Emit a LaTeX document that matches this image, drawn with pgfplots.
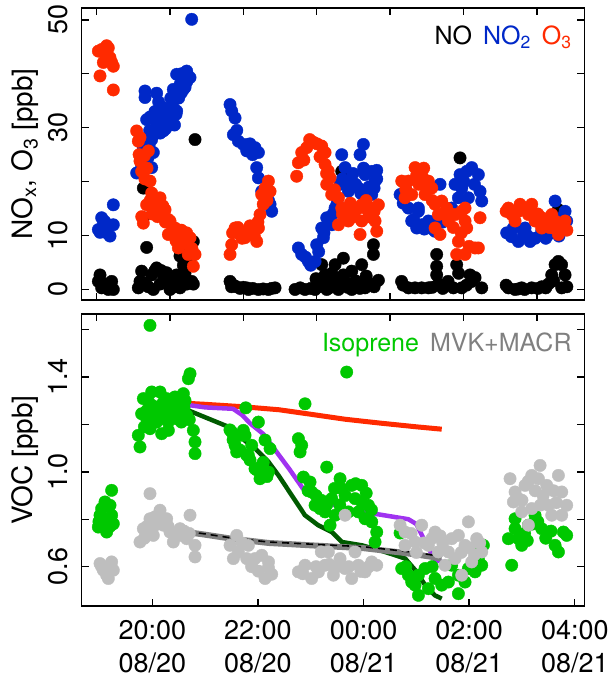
\documentclass[border=0pt]{standalone}
\usepackage{fontspec}
\setmainfont{TeX Gyre Heros}
\usepackage{pgfplots}
\pgfplotsset{compat=1.18}

\definecolor{ozone}{HTML}{FF2A00}
\definecolor{notwo}{HTML}{0028C8}
\definecolor{isop}{HTML}{00C800}
\definecolor{mvk}{HTML}{BEBEBE}
\definecolor{mvktxt}{HTML}{808080}
\definecolor{purp}{HTML}{A033F0}
\definecolor{dgreen}{HTML}{005A00}

\pgfplotsset{
  panel/.style={
    scale only axis, width=502.6pt, height=292pt,
    xmin=18.663, xmax=28.18,
    axis line style={line width=1.4pt},
    every tick/.style={black, line width=1.4pt},
    major tick length=7pt, tick align=inside,
    tick label style={font=\fontsize{27}{33}\selectfont},
    label style={font=\fontsize{28}{33}\selectfont},
    yticklabel style={xshift=-14pt, rotate=90, anchor=south, inner sep=0pt},
    ylabel style={at={(axis description cs:-0.113,0.5)}, anchor=center},
  },
  pts/.style={only marks, mark=*, mark size=6.2pt, color=#1},
}

\begin{document}
\begin{tikzpicture}
\path[use as bounding box] (0,0) rectangle (613pt,681pt);

% ---------- top panel: NOx, O3 ----------
\begin{axis}[panel, at={(81.7pt,381pt)}, anchor=south west,
  ymin=-1.95, ymax=52.2,
  ytick={0,10,20,30,40,50}, yticklabels={0,10,{},30,{},50},
  xtick={18.947,20.336,21.725,23.114,24.503,25.892,27.281}, xticklabels={},
  ylabel={NO\textsubscript{x}, O\textsubscript{3} [ppb]}]
% NO
\addplot[pts=black] coordinates {
(19.010,2.7)(19.041,0.3)(19.136,1.0)(19.230,1.5)(19.262,0)(19.167,0)(18.978,1.5)(19.073,0.8)(19.199,0.3)
(19.830,18.8)(19.830,13.3)(19.893,7.8)(20.809,27.8)(20.777,8.9)(20.525,6.2)(19.798,3.4)(20.082,4.0)(20.272,3.1)
(20.461,2.7)(20.651,1.5)(19.735,0.3)(19.925,0.5)(20.146,1.0)(20.335,0)(20.525,0.3)(20.651,1.0)(20.746,1.5)
(20.209,2.7)(19.988,2.7)(20.588,4.5)(20.714,5.5)(20.430,0.5)(20.019,0)(19.767,1.5)(20.398,2)(20.619,3)
(20.777,1.0)(19.860,1.2)(20.050,3.5)(20.300,1.5)(20.170,3.5)(20.5,1.2)(20.70,7.0)
(21.472,1.5)(21.598,0.5)(21.788,0.3)(21.819,0)(22.009,0)(22.198,0)(22.324,0.3)(21.535,0.8)(21.661,0.2)
(21.9,0.2)(22.1,0.1)(22.26,0.2)(21.72,0.4)(21.5,0.5)
(22.703,0)(22.892,0)(23.082,0)(23.303,0)(23.524,0)(23.776,0)(24.029,0.3)(24.281,1.7)(23.208,4.6)(23.271,2.7)
(23.461,4.6)(23.618,5.8)(23.618,2.7)(23.776,3.4)(23.965,4.6)(24.187,6.5)(24.187,8.3)(23.587,21.9)(23.397,1.0)
(23.650,1.5)(23.902,1.0)(22.8,0.3)(23.0,0.2)(23.15,0.5)(23.35,0.3)(23.7,0.4)(23.85,1.6)(24.1,1.2)(24.2,0.5)
(23.5,1.8)(23.25,1.2)(24.05,2.5)(23.93,0.2)(23.1,2.0)(23.4,3.0)
(25.827,24.4)(25.385,6.5)(25.385,4.3)(25.385,2.7)(25.417,1.0)(25.764,4.6)(26.017,2.7)(26.111,2.2)(25.228,0.3)
(25.575,1.0)(25.859,0.3)(26.238,0.3)(25.101,0.3)(24.975,0.3)(24.75,0.8)(24.72,1.5)(24.85,0.3)(25.7,0.3)
(25.95,0.8)(26.05,1.5)(25.80,3.0)(25.5,0.2)(25.3,0.4)(25.6,1.5)
(26.743,0.3)(26.869,0)(26.995,0.3)(27.185,0.3)(27.374,0.5)(27.500,1.0)(27.563,2.7)(27.627,4.6)(27.690,5.2)
(27.816,2.7)(27.753,0.3)(27.690,14.8)(26.7,0.8)(27.05,0)(27.3,0.2)(27.45,0.3)(27.6,1.6)(27.75,4.6)(27.85,0.5)(26.93,0.1)
};
% NO2
\addplot[pts=notwo] coordinates {
(18.978,11.1)(19.041,13.3)(19.073,12.0)(19.167,11.9)(19.199,9.9)(19.262,12.0)(19.262,15.7)(19.01,10.6)(19.1,12.6)(19.136,10.5)
(19.704,21.6)(19.798,22.9)(19.988,22.6)(20.019,25.4)(19.830,26.3)(19.893,31.5)(19.862,35.6)(19.862,36.8)(20.082,36.4)
(20.019,31.8)(20.146,33.1)(20.209,33.7)(20.272,31.8)(20.335,30.6)(20.209,29.4)(20.398,34.9)(20.461,33.1)(20.398,37.1)
(20.525,38.0)(20.461,39.9)(20.651,40.5)(20.714,39.3)(20.588,37.1)(20.746,50.1)(19.988,27.8)
(20.1,30.5)(20.3,33.5)(20.15,29.0)(19.95,29.5)(20.05,33.0)(20.25,31.0)(20.35,35.5)(20.5,35.5)(20.55,40.0)(20.65,38.5)
(20.0,28.5)(20.25,29.8)(20.45,32.5)(19.92,24.5)(19.85,23.8)(20.17,31.5)(20.42,30.5)(20.12,34.8)(20.30,32.0)
(19.96,32.0)(20.07,31.2)(20.20,32.5)(20.38,32.2)(20.55,36.5)(20.62,37.5)(19.94,26.8)
(21.472,34.3)(21.504,33.1)(21.567,31.8)(21.535,28.7)(21.630,27.5)(21.724,26.9)(21.788,25.7)(21.819,26.9)(21.945,26.3)
(22.009,25.4)(21.977,22.6)(22.009,20.7)(22.072,18.2)(22.135,17.6)(22.230,15.8)(22.261,14.5)(22.2,16.5)(21.9,25.0)(21.6,29.5)(21.85,27.0)
(22.766,7.7)(22.829,6.5)(22.955,5.2)(23.082,5.2)(23.113,8.3)(23.240,9.6)(23.208,11.4)(23.303,13.3)(23.397,12.0)
(23.461,15.1)(23.555,19.5)(23.587,25.0)(23.650,22.6)(23.713,18.2)(23.776,20.1)(23.902,18.8)(23.934,25.0)(23.997,26.9)
(24.029,21.3)(24.155,21.9)(24.250,22.1)(24.218,20.1)(24.155,17.6)(24.060,17.0)(22.9,6.0)(23.0,4.5)(23.15,7.0)
(23.35,12.5)(23.5,16.0)(23.6,20.5)(23.8,21.5)(23.85,19.5)(24.1,19.0)(24.2,18.8)(23.7,20.0)(23.95,17.8)(24.0,22.5)
(24.25,20.5)(23.42,14.0)(23.25,10.5)
(24.692,17.6)(24.849,15.1)(24.912,12.7)(25.007,11.4)(25.038,14.5)(25.101,12.0)(25.228,12.7)(25.259,11.4)(25.448,19.5)
(25.733,19.5)(25.827,21.3)(25.954,21.9)(26.048,22.6)(26.174,21.3)(26.206,18.2)(26.238,16.4)(25.985,17.0)(25.796,17.0)
(25.859,18.8)(25.669,15.1)(25.038,15.1)(24.75,16.0)(24.95,13.0)(25.15,11.2)(25.35,10.8)(25.5,12.5)(25.6,14.0)
(25.9,20.0)(26.1,19.5)(24.8,18.5)(25.3,12.5)
(26.711,10.5)(26.837,11.4)(26.932,8.9)(27.027,10.2)(27.153,8.9)(27.058,11.4)(27.374,10.8)(27.500,10.2)(27.627,16.4)
(27.816,14.5)(27.847,12.7)(27.753,13.3)(26.8,9.8)(27.1,10.0)(27.25,9.5)(27.45,9.5)(27.6,11.0)(27.7,9.9)
};
% O3
\addplot[pts=ozone] coordinates {
(18.978,44.2)(19.041,44.5)(19.136,45.2)(19.167,44.8)(19.104,43.7)(19.199,43.0)(19.073,42.1)(19.230,42.1)(19.262,41.4)(19.010,39.6)(19.262,37.0)
(19.704,29.4)(19.735,27.5)(19.767,28.2)(19.925,25.7)(19.767,23.8)(19.798,21.9)(19.956,20.1)(19.988,17.9)(20.146,17.0)
(19.893,15.7)(19.830,12.3)(20.241,14.8)(20.335,12.7)(20.430,11.4)(20.304,10.2)(20.525,9.6)(20.714,9.6)(20.493,7.7)
(20.809,6.5)(20.777,4.3)(19.75,25.0)(19.85,24.8)(19.9,22.5)(20.05,16.0)(20.2,15.5)(20.1,13.5)(20.0,14.0)(20.38,11.0)
(20.6,8.5)(20.65,10.5)(20.75,7.6)(20.55,11.0)(20.45,9.0)(19.96,16.5)(20.25,12.5)(20.68,6.5)
(20.08,15.0)(20.15,13.8)(20.30,13.0)(20.48,10.8)(20.62,9.8)(19.80,13.5)(19.86,20.5)
(21.472,6.5)(21.504,8.3)(21.567,11.4)(21.661,10.2)(21.756,9.6)(21.788,10.8)(21.882,10.2)(21.977,8.9)(22.009,11.4)
(22.040,13.9)(22.072,17.6)(22.135,18.8)(22.198,20.1)(22.230,18.2)(21.52,10.5)(21.62,11.5)(21.7,9.5)(21.85,11.8)
(21.93,10.0)(22.1,15.8)(22.17,16.5)(22.0,12.5)
(22.734,21.0)(22.766,23.5)(22.829,25.4)(22.924,26.3)(23.050,27.3)(23.208,26.6)(23.271,25.4)(23.176,24.6)(23.271,23.2)
(23.366,20.7)(23.303,19.5)(23.397,17.6)(23.524,17.0)(23.587,15.1)(23.524,12.0)(23.650,13.9)(23.713,14.5)(23.776,14.5)
(23.902,15.1)(23.965,15.7)(24.029,15.1)(24.155,15.1)(24.281,15.7)(24.218,12.7)(23.934,10.2)(23.965,12.7)(24.250,10.8)
(23.713,12.7)(22.98,27.8)(23.12,27.0)(22.87,24.0)(23.33,22.0)(23.45,18.5)(23.6,14.0)(23.83,13.5)(24.1,13.5)
(24.2,14.5)(23.75,16.0)(24.05,16.5)(23.3,21.5)
(24.723,20.1)(24.849,20.1)(24.786,17.0)(24.912,17.6)(24.976,22.6)(25.101,21.3)(25.228,20.1)(25.291,18.8)(25.164,17.6)
(25.354,15.8)(25.480,16.4)(25.575,15.1)(25.417,13.9)(25.606,12.7)(25.354,11.4)(25.448,10.2)(25.733,13.9)(25.859,14.5)
(25.922,12.7)(25.954,11.4)(25.796,8.9)(25.764,6.5)(25.922,6.5)(26.111,7.7)(26.174,7.7)(26.206,13.3)(25.922,15.1)
(24.8,18.5)(25.05,19.5)(25.2,18.5)(25.3,16.5)(25.5,14.0)(25.65,14.0)(25.7,11.5)(25.85,10.5)(26.0,8.0)(25.0,21.0)(25.14,22.5)
(26.743,15.1)(26.806,13.9)(26.869,12.7)(26.964,15.8)(27.058,15.1)(27.185,15.8)(27.122,13.9)(27.248,12.7)(27.374,13.3)
(27.469,12.0)(27.563,13.9)(27.627,12.7)(27.753,12.0)(27.816,12.7)(27.784,11.4)(27.690,10.2)(27.595,11.4)(27.374,11.4)
(26.7,14.5)(26.93,14.5)(27.3,14.0)(27.52,11.5)(27.85,11.0)
};
\node[anchor=base east, inner sep=0pt, font=\fontsize{25}{29}\selectfont]
  at (rel axis cs:0.975,0.875)
  {NO\hspace{11pt}\textcolor{notwo}{NO\textsubscript{2}}\hspace{11pt}\textcolor{ozone}{O\textsubscript{3}}};
\end{axis}

% ---------- bottom panel: VOC ----------
\begin{axis}[panel, at={(81.7pt,75pt)}, anchor=south west,
  ymin=0.434, ymax=1.666,
  ytick={0.6,0.8,1.0,1.2,1.4,1.6}, yticklabels={0.6,{},1.0,{},1.4,{}},
  xtick={20,22,24,26,28}, xtick pos=left,
  xticklabels={{20:00\\08/20},{22:00\\08/20},{00:00\\08/21},{02:00\\08/21},{04:00\\08/21}},
  xticklabel style={align=center, anchor=north, inner sep=0pt, yshift=-14pt,
    font=\fontsize{27}{33.5}\selectfont},
  ylabel={VOC [ppb]}]
% isoprene
\addplot[pts=isop] coordinates {
(19.230,0.922)(19.104,0.873)(19.041,0.845)(19.199,0.859)(19.010,0.817)(19.230,0.817)(19.262,0.781)(18.978,0.767)
(19.136,0.746)(19.073,0.789)(18.99,0.79)(19.16,0.80)(19.2,0.77)
(19.956,1.618)(20.714,1.414)(20.683,1.393)(19.830,1.309)(19.988,1.337)(20.146,1.337)(20.272,1.309)(20.430,1.316)
(20.588,1.33)(19.798,1.245)(19.893,1.224)(20.082,1.252)(20.241,1.266)(20.398,1.252)(20.525,1.239)(20.651,1.239)
(19.735,1.154)(19.956,1.182)(20.177,1.161)(20.304,1.175)(20.777,1.175)(20.809,1.126)(19.767,1.105)(20.809,1.077)
(20.082,1.21)(20.461,1.224)(20.0,1.28)(20.2,1.29)(20.35,1.27)(20.5,1.30)(19.9,1.26)(20.6,1.27)(20.7,1.22)
(19.85,1.19)(20.1,1.24)(20.3,1.21)(20.55,1.21)(20.15,1.27)(20.42,1.28)(19.92,1.30)(20.25,1.23)(20.62,1.30)
(21.504,1.168)(21.567,1.112)(21.598,1.084)(21.661,1.154)(21.788,1.07)(21.724,1.175)(21.819,1.07)(21.882,1.112)
(22.009,1.21)(21.945,1.013)(22.072,1.027)(22.198,0.999)(22.135,1.134)(22.230,1.098)(21.756,1.154)(22.04,0.971)
(21.77,1.27)(21.47,1.177)(21.53,1.135)(21.66,1.092)(21.85,1.05)(21.98,1.008)(22.1,1.04)(22.17,0.98)
(22.892,1.287)(23.681,1.421)(22.766,1.14)(22.829,1.112)(22.798,1.084)(23.303,1.02)(22.861,0.978)(22.987,0.957)
(23.018,0.915)(23.082,0.859)(23.176,0.845)(23.271,0.831)(23.366,0.775)(23.397,0.887)(23.555,0.971)(23.587,0.929)
(23.776,0.943)(23.839,0.887)(23.965,0.943)(23.965,0.873)(23.902,0.831)(24.029,0.802)(24.092,0.859)(24.155,0.789)
(24.250,0.746)(24.218,0.704)(23.461,0.817)(23.713,0.831)(23.1,0.90)(23.2,0.88)(23.45,0.93)(23.65,0.90)(23.85,0.95)
(24.05,0.91)(24.15,0.84)(23.55,0.86)(23.3,0.86)(22.95,0.92)
(24.723,0.592)(24.849,0.564)(24.912,0.535)(25.039,0.479)(24.976,0.522)(25.038,0.564)(25.164,0.592)(25.228,0.507)
(25.354,0.55)(25.480,0.522)(25.606,0.535)(25.796,0.486)(25.796,0.564)(25.985,0.592)(26.111,0.578)(26.238,0.606)
(26.269,0.69)(26.174,0.634)(25.922,0.535)(25.669,0.606)(24.692,0.742)(24.8,0.60)(25.3,0.60)(26.2,0.66)
(26.806,0.606)(26.743,0.718)(26.869,0.76)(26.995,0.69)(27.122,0.775)(27.248,0.817)(27.374,0.76)(27.500,0.746)
(27.627,0.69)(27.690,0.662)(27.784,0.746)(27.847,0.732)(26.869,0.802)(26.932,0.718)(27.05,0.74)(27.2,0.78)
(27.45,0.72)(27.3,0.79)(27.55,0.75)(27.1,0.71)
};
% MVK+MACR
\addplot[pts=mvk] coordinates {
(19.010,0.613)(19.230,0.62)(19.136,0.564)(19.262,0.585)(19.073,0.585)(19.167,0.55)(19.04,0.60)(19.2,0.60)
(19.956,0.908)(20.146,0.838)(19.830,0.76)(19.767,0.704)(19.956,0.802)(20.019,0.732)(20.209,0.775)(20.335,0.746)
(20.525,0.76)(20.714,0.817)(20.651,0.718)(20.809,0.69)(20.809,0.641)(20.398,0.704)(20.525,0.732)(20.272,0.802)
(19.9,0.77)(20.1,0.78)(20.0,0.76)(20.4,0.74)(20.6,0.75)(20.7,0.74)(19.85,0.72)(20.05,0.81)(20.3,0.77)
(21.472,0.69)(21.598,0.732)(21.630,0.662)(21.788,0.634)(21.535,0.634)(21.819,0.69)(21.945,0.634)(22.072,0.648)
(22.198,0.596)(22.261,0.568)(22.009,0.581)(22.135,0.55)(21.88,0.60)(21.7,0.70)(22.2,0.62)
(22.766,0.578)(22.892,0.606)(23.018,0.55)(23.145,0.578)(23.271,0.606)(23.334,0.662)(23.429,0.564)(23.555,0.634)
(23.650,0.592)(23.776,0.55)(23.902,0.606)(24.029,0.578)(24.155,0.62)(24.250,0.606)(23.650,0.817)(23.200,0.662)
(23.839,0.662)(22.85,0.57)(23.35,0.61)(23.5,0.60)(23.95,0.58)(24.1,0.60)(23.1,0.60)(23.72,0.60)
(24.692,0.775)(24.786,0.746)(24.786,0.69)(24.976,0.704)(25.101,0.775)(25.354,0.746)(25.228,0.69)(25.417,0.662)
(25.669,0.718)(25.796,0.732)(25.985,0.789)(26.143,0.718)(26.238,0.662)(25.922,0.69)(25.733,0.634)(25.543,0.606)
(26.048,0.62)(25.859,0.564)(25.606,0.662)(25.0,0.66)(25.3,0.72)(25.5,0.70)(26.0,0.68)(26.2,0.70)(24.9,0.74)
(25.45,0.73)(25.15,0.70)(25.85,0.66)(26.1,0.65)
(26.774,0.971)(26.869,0.915)(26.837,0.873)(26.995,0.831)(27.058,0.943)(27.185,0.985)(27.343,1.027)(27.311,0.971)
(27.469,0.943)(27.500,0.859)(27.563,0.817)(27.690,0.985)(27.753,0.915)(27.847,0.859)(27.753,0.817)(27.185,0.845)
(27.122,0.775)(26.932,0.887)(27.25,0.92)(27.4,0.90)(27.6,0.92)(27.0,0.88)(27.12,0.96)(27.35,0.86)(27.65,0.87)
};
% model lines
\addplot[ozone, line width=5pt] coordinates {
(20.43,1.292)(21.0,1.285)(21.7,1.275)(22.4,1.262)(23.0,1.243)(23.65,1.222)(24.3,1.206)(25.0,1.19)(25.48,1.18)};
\addplot[purp, line width=4.5pt] coordinates {
(20.43,1.29)(21.0,1.272)(21.53,1.266)(21.7,1.24)(21.85,1.205)(22.1,1.16)(22.3,1.10)(22.6,1.01)(22.85,0.93)
(23.1,0.89)(23.45,0.86)(23.65,0.84)(24.3,0.82)(24.85,0.80)(25.0,0.78)(25.1,0.735)(25.25,0.67)(25.35,0.63)(25.48,0.62)};
\addplot[dgreen, line width=4.5pt] coordinates {
(20.43,1.29)(20.52,1.274)(21.53,1.182)(21.76,1.13)(21.95,1.098)(22.2,1.042)(22.39,0.985)(22.64,0.901)(22.89,0.817)
(23.14,0.775)(23.4,0.746)(23.59,0.704)(23.97,0.69)(24.41,0.662)(24.79,0.634)(24.98,0.585)(25.17,0.521)(25.35,0.479)(25.48,0.465)};
\addplot[gray, line width=6pt] coordinates {
(20.43,0.753)(21.0,0.735)(21.5,0.718)(22.2,0.70)(23.0,0.69)(24.0,0.678)(24.7,0.66)(25.1,0.648)(25.48,0.635)};
\addplot[black, line width=1.6pt, dash pattern=on 7pt off 5pt] coordinates {
(20.43,0.756)(21.0,0.738)(21.5,0.721)(22.2,0.704)(23.0,0.695)(24.0,0.684)(24.7,0.667)(25.1,0.656)(25.48,0.643)};
\node[anchor=base east, inner sep=0pt, font=\fontsize{25}{29}\selectfont]
  at (rel axis cs:0.975,0.87)
  {\textcolor{isop}{Isoprene}\hspace{11pt}\textcolor{mvktxt}{MVK+MACR}};
\end{axis}
% top-side ticks of the lower panel
\begin{axis}[panel, at={(81.7pt,75pt)}, anchor=south west,
  ymin=0.434, ymax=1.666, ytick=\empty,
  xtick={18.947,20.336,21.725,23.114,24.503,25.892,27.281}, xtick pos=right, xticklabels={}]
\end{axis}
\end{tikzpicture}
\end{document}
